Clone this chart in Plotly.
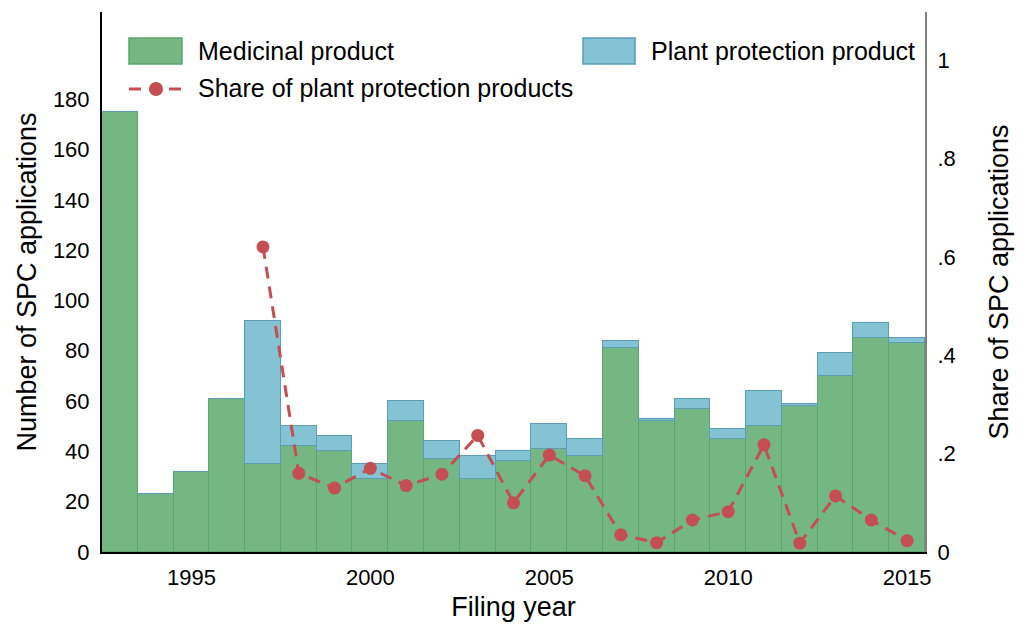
import plotly.graph_objects as go

years = list(range(1993, 2016))
medicinal = [175, 23, 32, 61, 35, 42, 40, 29, 52, 37, 29, 36, 41, 38, 81, 52, 57, 45, 50, 58, 70, 85, 83]
plant = [0, 0, 0, 0, 57, 8, 6, 6, 8, 7, 9, 4, 10, 7, 3, 1, 4, 4, 14, 1, 9, 6, 2]
share_years = list(range(1997, 2016))
share = [0.62, 0.16, 0.13, 0.17, 0.135, 0.158, 0.237, 0.10, 0.197, 0.155, 0.035, 0.019,
         0.065, 0.082, 0.218, 0.018, 0.114, 0.065, 0.023]

left_ticks = [0, 20, 40, 60, 80, 100, 120, 140, 160, 180]
right_ticks = [0, 0.2, 0.4, 0.6, 0.8, 1]
right_ticktext = ["0", ".2", ".4", ".6", ".8", "1"]
x_ticks = [1995, 2000, 2005, 2010, 2015]

GREEN = "#74b783"
GREEN_EDGE = "#5aa66c"
BLUE = "#84c3d4"
BLUE_EDGE = "#5b9db6"
RED = "#c44e52"
FONT = "Liberation Sans, Arial, sans-serif"

fig = go.Figure()
fig.add_trace(go.Bar(x=years, y=medicinal, width=1, name="Medicinal product",
                     marker=dict(color=GREEN, line=dict(color=GREEN_EDGE, width=1.5)),
                     showlegend=False))
fig.add_trace(go.Bar(x=years, y=plant, width=1, name="Plant protection product",
                     marker=dict(color=BLUE, line=dict(color=BLUE_EDGE, width=1.5)),
                     showlegend=False))
fig.add_trace(go.Scatter(x=share_years, y=share, yaxis="y2", mode="lines+markers",
                         name="Share of plant protection products",
                         line=dict(color=RED, width=3, dash="12px,8px"),
                         marker=dict(color=RED, size=13), showlegend=False))

# Manual legend (swatches + labels)
shapes = [
    dict(type="rect", xref="paper", yref="paper", x0=(129-102)/823, x1=(182-102)/823,
         y0=(552-64)/540, y1=(552-38)/540, fillcolor=GREEN, line=dict(color=GREEN_EDGE, width=1.5)),
    dict(type="rect", xref="paper", yref="paper", x0=(583-102)/823, x1=(635-102)/823,
         y0=(552-64)/540, y1=(552-38)/540, fillcolor=BLUE, line=dict(color=BLUE_EDGE, width=1.5)),
    dict(type="line", xref="paper", yref="paper", x0=(129-102)/823, x1=(182-102)/823,
         y0=(552-89)/540, y1=(552-89)/540, line=dict(color=RED, width=3, dash="12px,8px")),
    dict(type="circle", xref="paper", yref="paper", x0=(149-102)/823, x1=(163-102)/823,
         y0=(552-96)/540, y1=(552-82)/540, fillcolor=RED, line=dict(color=RED, width=0)),
]
annotations = [
    dict(text="Medicinal product", xref="paper", yref="paper", x=(196-102)/823, y=(552-51)/540,
         xanchor="left", yanchor="middle", showarrow=False, font=dict(size=25, color="black", family=FONT)),
    dict(text="Plant protection product", xref="paper", yref="paper", x=(649-102)/823, y=(552-51)/540,
         xanchor="left", yanchor="middle", showarrow=False, font=dict(size=25, color="black", family=FONT)),
    dict(text="Share of plant protection products", xref="paper", yref="paper", x=(196-102)/823,
         y=(552-88)/540, xanchor="left", yanchor="middle", showarrow=False,
         font=dict(size=25, color="black", family=FONT)),
]

fig.update_layout(
    width=1019, height=628,
    margin=dict(l=102, r=94, t=12, b=76),
    barmode="stack", bargap=0,
    plot_bgcolor="white", paper_bgcolor="white",
    font=dict(family=FONT, color="black", size=22),
    shapes=shapes, annotations=annotations,
    xaxis=dict(range=[1992.5, 2015.5], tickvals=x_ticks, showgrid=False, zeroline=False,
               showline=True, linecolor="black", linewidth=2, ticks="", ticklen=0,
               ticklabelstandoff=5, automargin=False,
               tickfont=dict(size=22), title=dict(text="Filing year", font=dict(size=27), standoff=8)),
    yaxis=dict(range=[0, 214.7], tickvals=left_ticks, showgrid=False, zeroline=False,
               showline=True, linecolor="black", linewidth=2, ticks="", ticklen=0,
               ticklabelstandoff=6, automargin=False,
               tickfont=dict(size=22), title=dict(text="Number of SPC applications", font=dict(size=27), standoff=8)),
    yaxis2=dict(range=[0, 1.0976], overlaying="y", side="right", tickvals=right_ticks,
                ticktext=right_ticktext, showgrid=False, zeroline=False, showline=True,
                linecolor="#808080", linewidth=2, ticks="", ticklen=0, tickfont=dict(size=22),
                ticklabelstandoff=6, automargin=False,
                title=dict(text="Share of SPC applications", font=dict(size=27), standoff=34)),
)

fig.write_html("out.html", config={"displayModeBar": False},
               post_script="document.body.style.margin='0';document.body.style.overflow='hidden';")
